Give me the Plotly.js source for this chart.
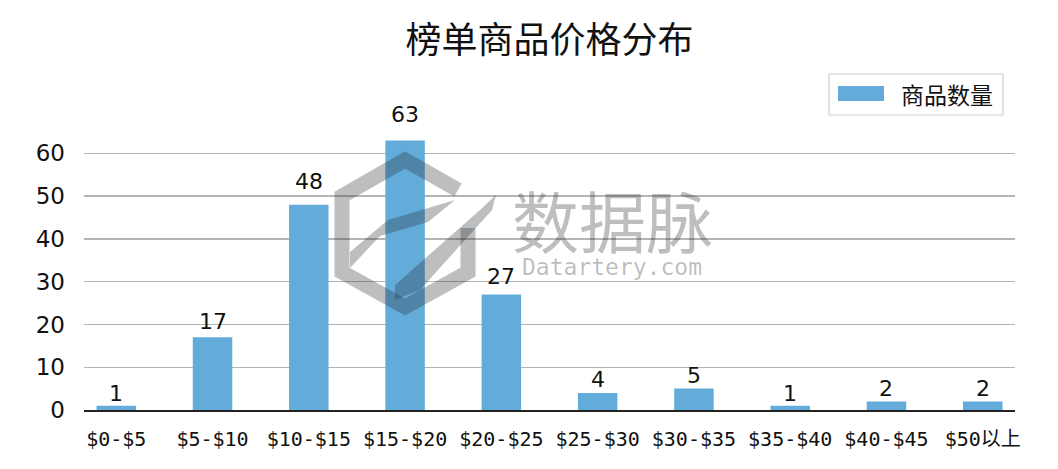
<!DOCTYPE html>
<html><head><meta charset="utf-8">
<script src="https://cdn.plot.ly/plotly-3.0.1.min.js"></script>
<style>html,body{margin:0;padding:0;background:#fff}#c{width:1058px;height:469px}</style>
</head><body><div id="c"></div>
<script>
const categories = ["$0-$5","$5-$10","$10-$15","$15-$20","$20-$25","$25-$30","$30-$35","$35-$40","$40-$45","$50以上"];
const counts = [1,17,48,63,27,4,5,1,2,2];
const seriesName = "商品数量";
const chartTitle = "榜单商品价格分布";
const barColor = "#63acd9";
const wmColor = "rgba(40,46,52,0.31)";

const L = 84, R = 1015, T = 127, B = 410, W = 1058, H = 469;
const px2x = x => (x - L) / (R - L);
const py2y = y => (B - y) / (B - T);
const pathOf = pts => pts.map((p, i) => (i ? "L" : "M") + px2x(p[0]).toFixed(5) + "," + py2y(p[1]).toFixed(5)).join(" ");

const trace = {
  type: "bar",
  x: categories.map((c, i) => i),
  y: counts,
  width: 0.41,
  marker: {color: barColor},
  name: seriesName,
  showlegend: false,
  hoverinfo: "x+y"
};

const valueLabels = counts.map((v, i) => ({
  text: String(v), x: i, y: v * 1.05, xref: "x", yref: "y", xanchor: "center", yanchor: "bottom",
  yshift: -2, showarrow: false, font: {family: "DejaVu Sans", size: 22, color: "#111"}
}));

const layout = {
  width: W, height: H,
  margin: {l: L, r: W - R, t: T, b: H - B, pad: 0},
  paper_bgcolor: "#fff", plot_bgcolor: "#fff",
  title: {text: chartTitle, font: {family: "Noto Sans CJK SC", size: 36, color: "#111"},
          x: 0.5, xref: "paper", xanchor: "center", y: 1 - 40 / H, yref: "container", yanchor: "middle"},
  xaxis: {
    range: [-0.335, 9.335], tickmode: "array", tickvals: categories.map((c, i) => i), ticktext: categories,
    showgrid: false, zeroline: false, showline: true, linecolor: "#222", linewidth: 1.5,
    ticks: "", tickfont: {family: "DejaVu Sans Mono, Noto Sans CJK SC", size: 20, color: "#111"},
    ticklabelstandoff: 10
  },
  yaxis: {
    range: [0, 66.15], tickvals: [0,10,20,30,40,50,60], showgrid: true, gridcolor: "#b4b4b4", gridwidth: 1.4,
    zeroline: false, showline: false, ticks: "",
    tickfont: {family: "DejaVu Sans", size: 23, color: "#111"}, ticklabelstandoff: 18
  },
  shapes: [
    // watermark logo
    {type: "path", xref: "paper", yref: "paper", layer: "above",
     path: pathOf([[458,190],[405,160],[342,196],[342,272],[405,307],[468,272],[468,228]]),
     line: {color: wmColor, width: 15}, fillcolor: "rgba(0,0,0,0)"},
    {type: "path", xref: "paper", yref: "paper", layer: "above",
     path: pathOf([[350,268],[350,252],[388,220],[455,200],[428,222],[380,236]]) + " Z",
     line: {width: 0}, fillcolor: wmColor},
    {type: "path", xref: "paper", yref: "paper", layer: "above",
     path: pathOf([[395,300],[395,285],[480,210],[496,195],[492,210],[420,290]]) + " Z",
     line: {width: 0}, fillcolor: wmColor},
    // legend
    {type: "rect", xref: "paper", yref: "paper", x0: px2x(829), x1: px2x(1003), y0: py2y(115), y1: py2y(74),
     line: {color: "#d0d0d0", width: 1.2}, fillcolor: "rgba(255,255,255,0.85)", layer: "above"},
    {type: "rect", xref: "paper", yref: "paper", x0: px2x(838), x1: px2x(884), y0: py2y(101), y1: py2y(86),
     line: {width: 0}, fillcolor: barColor, layer: "above"}
  ],
  annotations: valueLabels.concat([
    {text: seriesName, xref: "paper", yref: "paper", x: px2x(899), y: py2y(94), xanchor: "left", yanchor: "middle",
     showarrow: false, font: {family: "Noto Sans CJK SC", size: 23, color: "#111"}},
    {text: "数据脉", xref: "paper", yref: "paper", x: px2x(612), y: py2y(218), xanchor: "center", yanchor: "middle",
     showarrow: false, font: {family: "Noto Sans CJK SC", size: 67, color: wmColor}},
    {text: "Datartery.com", xref: "paper", yref: "paper", x: px2x(612), y: py2y(267), xanchor: "center", yanchor: "middle",
     showarrow: false, font: {family: "DejaVu Sans Mono", size: 23, color: wmColor}}
  ])
};

Plotly.newPlot("c", [trace], layout, {staticPlot: true, displayModeBar: false});
</script></body></html>
